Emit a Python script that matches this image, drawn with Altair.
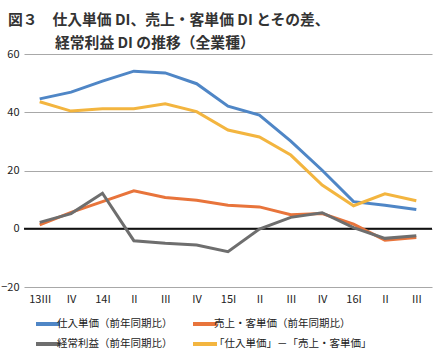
import altair as alt
import pandas as pd

quarters = ["13III", "IV", "14I", "II", "III", "IV", "15I", "II", "III", "IV", "16I", "II", "III"]
series_names = ["仕入単価（前年同期比）", "売上・客単価（前年同期比）", "経常利益（前年同期比）", "「仕入単価」－「売上・客単価」"]
shiire = [44.6, 46.9, 50.7, 54.1, 53.5, 49.8, 42.1, 39.0, 30.1, 20.1, 9.3, 8.1, 6.6]
uriage = [1.3, 5.6, 9.3, 13.0, 10.7, 9.8, 8.1, 7.5, 4.8, 5.2, 1.6, -3.9, -3.0]
keijo = [2.2, 5.2, 12.2, -4.1, -5.0, -5.6, -7.9, -0.1, 3.9, 5.5, 0.4, -3.3, -2.4]
sa = [43.6, 40.4, 41.2, 41.2, 42.9, 40.2, 33.9, 31.5, 25.3, 15.0, 7.9, 12.0, 9.6]
colors = ["#4F86C6", "#E8743B", "#6E6E6E", "#F3B53F"]
y_ticks = [-20, -10, 0, 10, 20, 30, 40, 50, 60]
title_lines = ["図３　仕入単価 DI、売上・客単価 DI とその差、", "経常利益 DI の推移（全業種）"]

rows = []
for name, vals in zip(series_names, [shiire, uriage, keijo, sa]):
    for i, (q, v) in enumerate(zip(quarters, vals)):
        rows.append({"idx": i, "q": q, "series": name, "value": v})
df = pd.DataFrame(rows)

# legend laid out column-major: order so rows read blue/orange, gray/yellow
legend_order = [series_names[0], series_names[2], series_names[1], series_names[3]]
legend_colors = [colors[0], colors[2], colors[1], colors[3]]

label_expr = "[" + ",".join('"%s"' % q for q in quarters) + "][datum.value]"

FONT = "Noto Sans CJK JP"

x_enc = alt.X("idx:O", title=None,
              scale=alt.Scale(type="point", padding=0.5),
              axis=alt.Axis(labelExpr=label_expr, domain=False, ticks=False,
                            labelAngle=0, labelFontSize=11, labelColor="#222",
                            labelFont=FONT, labelPadding=6, grid=False))

lines = alt.Chart(df).mark_line(strokeWidth=3).encode(
    x=x_enc,
    y=alt.Y("value:Q", title=None,
            scale=alt.Scale(domain=[-20, 60], nice=False),
            axis=alt.Axis(values=y_ticks, domain=False, ticks=False, grid=True,
                          gridColor="#A8A8A8", gridWidth=1.2, labelFontSize=11,
                          labelColor="#222", labelFont=FONT, labelPadding=5)),
    color=alt.Color("series:N", title=None,
                    scale=alt.Scale(domain=legend_order, range=legend_colors),
                    legend=alt.Legend(orient="none", legendX=16, legendY=262,
                                      columns=2, symbolType="M-2,0H2",
                                      symbolStrokeWidth=4, symbolSize=144,
                                      labelFontSize=10.5, labelFont=FONT,
                                      labelColor="#222", columnPadding=12,
                                      rowPadding=4, labelOffset=1,
                                      labelLimit=300)),
    order="idx:O",
)

zero = alt.Chart(pd.DataFrame({"y": [0]})).mark_rule(color="#111", strokeWidth=2.2).encode(
    y=alt.Y("y:Q"))

title1 = alt.Chart(pd.DataFrame({"t": [title_lines[0]]})).mark_text(
    align="left", baseline="alphabetic", fontSize=14.8, font=FONT, fontWeight="bold",
    color="#333").encode(text="t:N", x=alt.value(-16), y=alt.value(-29))
title2 = alt.Chart(pd.DataFrame({"t": [title_lines[1]]})).mark_text(
    align="left", baseline="alphabetic", fontSize=14.8, font=FONT, fontWeight="bold",
    color="#333").encode(text="t:N", x=alt.value(31), y=alt.value(-6))

chart = alt.layer(zero, lines, title1, title2).properties(
    width=408, height=233,
).configure(padding={"left": 24, "top": 54, "right": 6, "bottom": 63}, autosize="none").configure_view(stroke=None)

chart.save("out.html", embed_options={"renderer": "svg", "actions": False})
